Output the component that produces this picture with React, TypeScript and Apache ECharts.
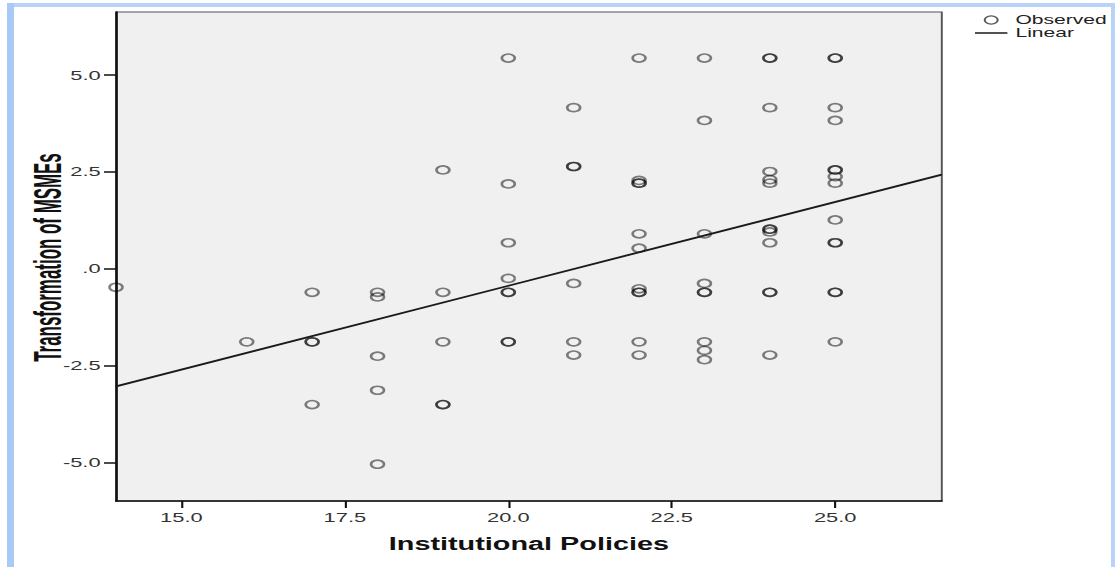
import React, { useEffect, useRef } from "react";
import * as echarts from "echarts";

// ---- data ----
const obsX = [
  14,
  16,
  17, 17, 17, 17,
  18, 18, 18, 18, 18,
  19, 19, 19, 19, 19,
  20, 20, 20, 20, 20, 20, 20, 20,
  21, 21, 21, 21, 21, 21,
  22, 22, 22, 22, 22, 22, 22, 22, 22, 22, 22,
  23, 23, 23, 23, 23, 23, 23, 23, 23,
  24, 24, 24, 24, 24, 24, 24, 24, 24, 24, 24, 24, 24,
  25, 25, 25, 25, 25, 25, 25, 25, 25, 25, 25, 25, 25, 25,
];
const obsY = [
  -0.48,
  -1.89,
  -0.61, -1.89, -1.89, -3.51,
  -0.61, -0.73, -2.26, -3.14, -5.05,
  2.55, -0.61, -1.89, -3.51, -3.51,
  5.44, 2.19, 0.67, -0.25, -0.61, -0.61, -1.89, -1.89,
  4.16, 2.64, 2.64, -0.38, -1.89, -2.23,
  5.44, 2.28, 2.21, 2.21, 0.9, 0.53, -0.52, -0.61, -0.61, -1.89, -2.23,
  5.44, 3.83, 0.9, -0.38, -0.61, -0.61, -1.89, -2.11, -2.35,
  5.44, 5.44, 4.16, 2.51, 2.3, 2.21, 1.02, 1.02, 0.95, 0.67, -0.61, -0.61, -2.23,
  5.44, 5.44, 4.16, 3.83, 2.55, 2.55, 2.38, 2.21, 1.26, 0.67, 0.67, -0.61, -0.61, -1.89,
];
const lineX = [14, 26.63];
const lineY = [-3.04, 2.43];
const xTicks = [15, 17.5, 20, 22.5, 25];
const yTicks = [-5, -2.5, 0, 2.5, 5];
const seriesNames = ["Observed", "Linear"];
const xTitle = "Institutional Policies";
const yTitle = "Transformation of MSMEs";

const W = 1117;
const H = 567;
const S = 1.62; // horizontal stretch of the reference picture
const CW = W / S;
const GL = 116 / S;
const GR = 941 / S;
const GT = 12;
const GB = 501;

const fmt = (v: number) => (v === 0 ? ".0" : v.toFixed(1));

export default function App() {
  const ref = useRef<HTMLDivElement>(null);
  useEffect(() => {
    if (!ref.current) return;
    const chart = echarts.init(ref.current, null, { renderer: "svg" });
    const font = '"Liberation Sans", Arial, sans-serif';
    chart.setOption({
      animation: false,
      backgroundColor: "transparent",
      grid: {
        left: GL,
        right: CW - GR,
        top: GT,
        bottom: H - GB,
        show: true,
        backgroundColor: "#f0f0f0",
        borderColor: "#555",
        borderWidth: 1.2,
        outerBoundsMode: "none",
      },
      legend: {
        orient: "vertical",
        left: 975 / S,
        top: 13.5,
        padding: 0,
        itemWidth: 20,
        itemHeight: 8,
        itemGap: 0,
        selectedMode: false,
        textStyle: { fontFamily: font, fontSize: 13, lineHeight: 13, color: "#222" },
        data: [
          {
            name: seriesNames[0],
            icon: "circle",
            itemStyle: { color: "transparent", borderColor: "#333", borderWidth: 1.2 },
          },
          {
            name: seriesNames[1],
            icon: "path://M0,0L40,0L40,2.6L0,2.6Z",
            itemStyle: { color: "#1a1a1a", borderWidth: 0 },
          },
        ],
      },
      graphic: [
        {
          type: "text",
          x: 29.5,
          y: (GT + GB) / 2 + 1,
          rotation: Math.PI / 2,
          scaleX: 0.72,
          silent: true,
          style: {
            text: yTitle,
            fontFamily: font,
            fontSize: 23.5,
            fontWeight: "bold",
            fill: "#111",
            align: "center",
            verticalAlign: "middle",
          },
        },
      ],
      xAxis: {
        type: "value",
        min: lineX[0],
        max: lineX[1],
        name: xTitle,
        nameLocation: "middle",
        nameGap: 34,
        nameTextStyle: { fontFamily: font, fontSize: 17.8, fontWeight: "bold", color: "#111" },
        splitLine: { show: false },
        axisLine: { show: true, onZero: false, lineStyle: { color: "#111", width: 1.5 } },
        axisTick: {
          show: true,
          customValues: xTicks,
          length: 7,
          lineStyle: { color: "#111", width: 1.3 },
        },
        axisLabel: {
          customValues: xTicks,
          formatter: fmt,
          margin: 10,
          fontFamily: font,
          fontSize: 13.5,
          color: "#333",
        },
      },
      yAxis: {
        type: "value",
        min: -6,
        max: 6.63,
        splitLine: { show: false },
        axisLine: { show: true, onZero: false, lineStyle: { color: "#111", width: 1.5 } },
        axisTick: {
          show: true,
          customValues: yTicks,
          length: 7.4,
          lineStyle: { color: "#111", width: 1.5 },
        },
        axisLabel: {
          customValues: yTicks,
          formatter: fmt,
          margin: 9.5,
          fontFamily: font,
          fontSize: 13.5,
          color: "#333",
        },
      },
      series: [
        {
          name: seriesNames[0],
          type: "scatter",
          silent: true,
          symbol: "circle",
          symbolSize: 8,
          itemStyle: { color: "transparent", borderColor: "rgba(0,0,0,0.62)", borderWidth: 1.6 },
          data: obsX.map((x, i) => [x, obsY[i]]),
          z: 3,
        },
        {
          name: seriesNames[1],
          type: "line",
          silent: true,
          symbol: "none",
          itemStyle: { color: "#1a1a1a" },
          lineStyle: { color: "#1a1a1a", width: 1.8 },
          data: lineX.map((x, i) => [x, lineY[i]]),
          z: 4,
        },
      ],
    });
    return () => chart.dispose();
  }, []);

  return (
    <div
      style={{
        position: "absolute",
        left: 0,
        top: 0,
        width: W,
        height: H,
        overflow: "hidden",
        background: "#fff",
      }}
    >
      <div
        ref={ref}
        style={{
          position: "absolute",
          left: 0,
          top: 0,
          width: CW,
          height: H,
          transform: `scaleX(${S})`,
          transformOrigin: "0 0",
        }}
      />
      <div style={{ position: "absolute", left: 7, top: 3, width: 1108, height: 4, background: "#b8d3f8" }} />
      <div style={{ position: "absolute", left: 7, top: 3, width: 7, height: 564, background: "#a9c9f6" }} />
      <div style={{ position: "absolute", left: 1111, top: 3, width: 4, height: 564, background: "#b8d3f8" }} />
    </div>
  );
}
